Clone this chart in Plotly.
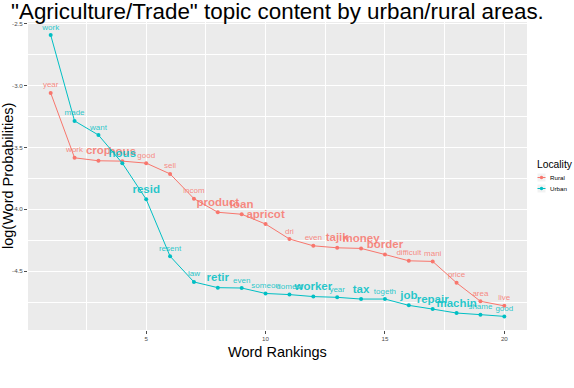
import plotly.graph_objects as go

ranks = list(range(1, 21))

rural_words = ["year", "work", "crop", "hous", "good", "sell", "incom", "product", "loan", "apricot",
               "dri", "even", "tajik", "money", "border", "difficult", "mani", "price", "area", "live"]
rural_vals = [-3.06, -3.584, -3.608, -3.611, -3.627, -3.714, -3.914, -4.024, -4.04, -4.119,
              -4.24, -4.295, -4.311, -4.316, -4.365, -4.416, -4.421, -4.594, -4.743, -4.78]
rural_big = [0, 0, 1, 1, 0, 0, 0, 1, 1, 1, 0, 0, 1, 1, 1, 0, 0, 0, 0, 0]

urban_words = ["work", "made", "want", "hous", "resid", "resent", "law", "retir", "even", "someon",
               "domest", "worker", "year", "tax", "togeth", "job", "repair", "machin", "shame", "good"]
urban_vals = [-2.592, -3.286, -3.40, -3.627, -3.919, -4.379, -4.587, -4.633, -4.636, -4.68,
              -4.689, -4.705, -4.711, -4.725, -4.725, -4.776, -4.806, -4.838, -4.851, -4.865]
urban_big = [0, 0, 0, 1, 1, 0, 0, 1, 0, 0, 0, 1, 0, 1, 0, 1, 1, 1, 0, 0]

x_ticks = [5, 10, 15, 20]
y_ticks = [-2.5, -3.0, -3.5, -4.0, -4.5]
y_ticktext = ["-2.5", "-3.0", "-3.5", "-4.0", "-4.5"]

FONT = "Liberation Sans, Arial, sans-serif"
RED = "#F8766D"
CYAN = "#00BFC4"

W, H = 574, 388
ML, MR, MT, MB = 28, 47, 22, 58
PW, PH = W - ML - MR, H - MT - MB


def px_x(x):
    return (x - ML) / PW


def px_y(y):
    return (H - MB - y) / PH


def labels(words, big):
    return [f"<b>{w}</b>" if b else w for w, b in zip(words, big)]


def sizes(big):
    return [11.5 if b else 8 for b in big]


series = [
    ("Rural", rural_words, rural_vals, rural_big, RED, "rgba(248,118,109,0.85)"),
    ("Urban", urban_words, urban_vals, urban_big, CYAN, "rgba(0,191,196,0.85)"),
]

fig = go.Figure()
for name, words, vals, big, col, tcol in series:
    fig.add_trace(go.Scatter(
        x=ranks, y=vals, name=name,
        mode="lines+markers+text",
        text=labels(words, big),
        textposition="top center",
        textfont=dict(family=FONT, size=sizes(big), color=tcol),
        line=dict(color=col, width=1),
        marker=dict(color=col, size=4),
        showlegend=False,
        cliponaxis=False,
    ))

annotations = [
    dict(text="Word Rankings", xref="paper", yref="paper", x=px_x(277), y=px_y(352),
         xanchor="center", yanchor="middle", showarrow=False, font=dict(size=14.5, color="black")),
    dict(text="log(Word Probabilities)", xref="paper", yref="paper", x=px_x(8), y=px_y(176),
         xanchor="center", yanchor="middle", textangle=-90, showarrow=False,
         font=dict(size=14.5, color="black")),
    dict(text="Locality", xref="paper", yref="paper", x=px_x(535), y=px_y(164),
         xanchor="left", yanchor="middle", showarrow=False, font=dict(size=10.3, color="black")),
]
shapes = []
key_y = [177.5, 188.5]
for (name, *_rest), ky in zip(series, key_y):
    col = _rest[3]
    shapes.append(dict(type="rect", xref="paper", yref="paper",
                       x0=px_x(537.5), x1=px_x(545.5), y0=px_y(ky - 4), y1=px_y(ky + 4),
                       fillcolor="#F2F2F2", line=dict(width=0)))
    shapes.append(dict(type="line", xref="paper", yref="paper",
                       x0=px_x(537.5), x1=px_x(545.5), y0=px_y(ky), y1=px_y(ky),
                       line=dict(color=col, width=1)))
    shapes.append(dict(type="circle", xref="paper", yref="paper",
                       x0=px_x(539.8), x1=px_x(543.2), y0=px_y(ky - 1.7), y1=px_y(ky + 1.7),
                       fillcolor=col, line=dict(width=0)))
    annotations.append(dict(text=name, xref="paper", yref="paper", x=px_x(547.5), y=px_y(ky),
                            xanchor="left", yanchor="middle", showarrow=False,
                            font=dict(size=6.2, color="black")))

fig.update_layout(
    width=W, height=H,
    margin=dict(l=ML, r=MR, t=MT, b=MB, autoexpand=False),
    paper_bgcolor="white",
    plot_bgcolor="#EBEBEB",
    font=dict(family=FONT, color="black"),
    title=dict(text='"Agriculture/Trade" topic content by urban/rural areas.',
               x=11 / W, xref="container", xanchor="left",
               y=1 - 11.5 / H, yref="container", yanchor="middle",
               font=dict(size=22.4, family=FONT, color="black")),
    showlegend=False,
    annotations=annotations,
    shapes=shapes,
)
fig.update_xaxes(
    range=[0.05, 20.95], tickmode="array", tickvals=x_ticks,
    tickfont=dict(size=6.2, color="#4D4D4D"), ticks="outside", ticklen=3, tickcolor="#4D4D4D",
    showgrid=True, gridcolor="white", gridwidth=1, zeroline=False, automargin=False,
    minor=dict(tickmode="array", tickvals=[2.5, 7.5, 12.5, 17.5], showgrid=True,
               gridcolor="white", gridwidth=0.5),
)
fig.update_yaxes(
    range=[-4.975, -2.487], tickmode="array", tickvals=y_ticks, ticktext=y_ticktext,
    tickfont=dict(size=6.2, color="#4D4D4D"), ticks="outside", ticklen=3, tickcolor="#4D4D4D",
    showgrid=True, gridcolor="white", gridwidth=1, zeroline=False, automargin=False,
    minor=dict(tickmode="array", tickvals=[-2.75, -3.25, -3.75, -4.25, -4.75], showgrid=True,
               gridcolor="white", gridwidth=0.5),
)

fig.write_html("out.html", config={"displayModeBar": False},
               post_script="document.body.style.margin='0';")
